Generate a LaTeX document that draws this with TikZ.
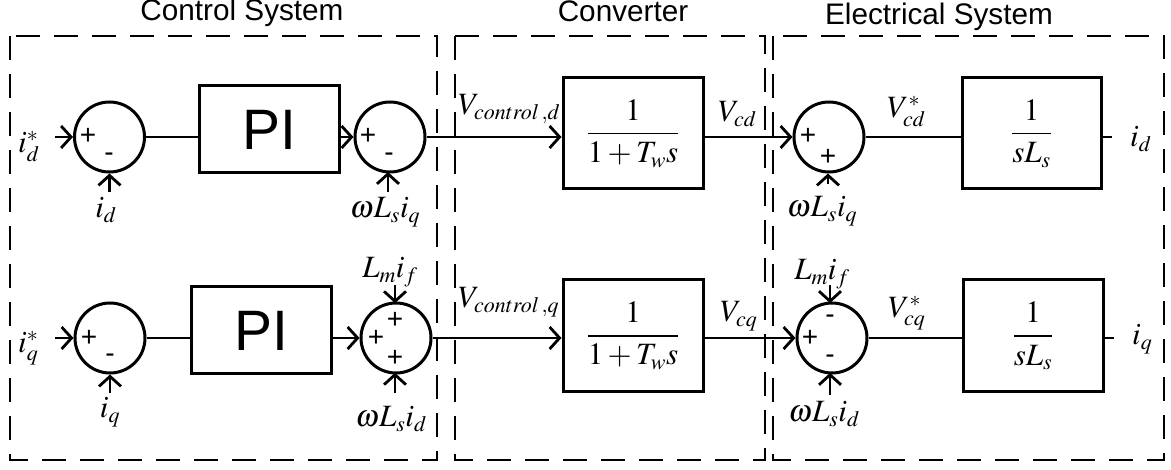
\documentclass[tikz,border=0pt]{standalone}
\usepackage{mathptmx}
\usepackage{fontspec}
\setmainfont{Liberation Serif}
\setsansfont{Liberation Sans}
\usetikzlibrary{arrows.meta}
\DeclareMathSizes{31}{31}{22}{16}
\begin{document}
\begin{tikzpicture}[x=1pt,y=-1pt,
  blk/.style={draw, line width=3pt, inner sep=0pt},
  sumnode/.style={draw, circle, line width=3pt, minimum size=70pt, inner sep=0pt},
  conn/.style={line width=2.8pt},
  arr/.style={conn, -{Straight Barb[length=10pt,width=22pt]}},
  region/.style={draw, line width=1.9pt, dash pattern=on 24pt off 14pt},
  lab/.style={font=\fontsize{31}{37}\selectfont, inner sep=0pt},
  sgn/.style={font=\sffamily\fontsize{28}{32}\selectfont, inner sep=0pt},
  ttl/.style={font=\sffamily\fontsize{29.7}{34}\selectfont, inner sep=0pt, anchor=base},
  pitext/.style={font=\sffamily\fontsize{57}{60}\selectfont}
]
\useasboundingbox (0,0) rectangle (1171,470);

% regions
\draw[region] (10,36) rectangle (437,460);
\draw[region] (455,36) rectangle (765,460);
\draw[region] (773,36) rectangle (1164,460);
\node[ttl] (t1) at (242,21) {Control System};
\node[ttl] (t2) at (623,22) {Converter};
\node[ttl] (t3) at (939,25) {Electrical System};

% summing junctions
\node[sumnode] (s1) at (109.5,137) {};
\node[sumnode] (s2) at (390,137) {};
\node[sumnode] (s3) at (829,137) {};
\node[sumnode] (s4) at (110,338) {};
\node[sumnode] (s5) at (396,338) {};
\node[sumnode] (s6) at (832,338) {};

% blocks
\node[blk, minimum width=140pt, minimum height=87pt, pitext] (pi1) at (269,129.5) {PI};
\node[blk, minimum width=140pt, minimum height=87pt, pitext] (pi2) at (261,330.5) {PI};
\node[blk, minimum width=140pt, minimum height=111pt, lab] (c1) at (633,133.5) {$\displaystyle\frac{1}{1+T_w s}$};
\node[blk, minimum width=140pt, minimum height=112pt, lab] (c2) at (633,336) {$\displaystyle\frac{1}{1+T_w s}$};
\node[blk, minimum width=139pt, minimum height=111pt, lab] (e1) at (1031.5,133.5) {$\displaystyle\frac{1}{sL_s}$};
\node[blk, minimum width=140pt, minimum height=112pt, lab] (e2) at (1033,336) {$\displaystyle\frac{1}{sL_s}$};

% signs
\node[sgn] (p1a) at (88,136) {+};
\node[sgn] (m1b) at (109,157) {-};
\node[sgn] (p2a) at (368,136) {+};
\node[sgn] (m2b) at (389,157) {-};
\node[sgn] (p3a) at (808,136) {+};
\node[sgn] (p3b) at (828,157) {+};
\node[sgn] (p4a) at (89,338) {+};
\node[sgn] (m4b) at (110,358) {-};
\node[sgn] (p5a) at (376,338) {+};
\node[sgn] (p5t) at (395,320) {+};
\node[sgn] (p5b) at (395,358) {+};
\node[sgn] (p6a) at (810,338) {+};
\node[sgn] (m6t) at (830,319) {-};
\node[sgn] (m6b) at (830,359) {-};

% labels
\node[lab, anchor=base west] (lids) at (18,153) {$i^*_d$};
\node[lab, anchor=base west] (liqs) at (18,353) {$i^*_q$};
\node[lab, anchor=base] (lid1) at (106,218) {$i_d$};
\node[lab, anchor=base] (liq1) at (110,418) {$i_q$};
\node[lab, anchor=base] (lw2) at (385,218) {$\omega L_s i_q$};
\node[lab, anchor=base] (lm5) at (390,278) {$L_m i_f$};
\node[lab, anchor=base] (lw5) at (391,427) {$\omega L_s i_d$};
\node[lab, anchor=base west] (lvcd) at (458,115) {$V_{control\mkern2mu,d}$};
\node[lab, anchor=base west] (lvcq) at (458,308) {$V_{control\mkern2mu,q}$};
\node[lab, anchor=base west] (lvd) at (718,122) {$V_{cd}$};
\node[lab, anchor=base west] (lvq) at (720,322) {$V_{cq}$};
\node[lab, anchor=base] (lw3) at (822,217) {$\omega L_s i_q$};
\node[lab, anchor=base] (lm6) at (822,280) {$L_m i_f$};
\node[lab, anchor=base] (lw6) at (824,422) {$\omega L_s i_d$};
\node[lab, anchor=base west] (lvds) at (887,118) {$V^*_{cd}$};
\node[lab, anchor=base west] (lvqs) at (888,318) {$V^*_{cq}$};
\node[lab, anchor=base west] (lidout) at (1130,147) {$i_d$};
\node[lab, anchor=base west] (liqout) at (1132,345) {$i_q$};

% free ends
\coordinate (in1) at (55,137);
\coordinate (in4) at (55,338);
\coordinate (b1) at (109.5,192);
\coordinate (b2) at (388,192);
\coordinate (b3) at (828,184);
\coordinate (b4) at (110,393);
\coordinate (b5) at (395,393);
\coordinate (t5) at (395,285);
\coordinate (b6) at (830,395);
\coordinate (t6) at (830,285);
\coordinate (o1) at (1112,137);
\coordinate (o2) at (1114,338);

% row d connectors
\draw[arr] (in1) -- (s1.west);
\draw[arr] (b1) -- (b1 |- s1.south);
\draw[conn] (s1.east) -- (s1.east -| pi1.west);
\draw[arr] (s2.west -| pi1.east) -- (s2.west);
\draw[arr] (b2) -- (388,172);
\draw[arr] (s2.east) -- (s2.east -| c1.west);
\draw[arr] (s3.west -| c1.east) -- (s3.west);
\draw[arr] (b3) -- (b3 |- s3.south);
\draw[conn] (s3.east) -- (s3.east -| e1.west);
\draw[conn] (o1 -| e1.east) -- (o1);

% row q connectors
\draw[arr] (in4) -- (s4.west);
\draw[arr] (b4) -- (b4 |- s4.south);
\draw[conn] (s4.east) -- (s4.east -| pi2.west);
\draw[arr] (s5.west -| pi2.east) -- (s5.west);
\draw[arr] (t5) -- (395,303.2);
\draw[arr] (b5) -- (395,372.8);
\draw[arr] (s5.east) -- (s5.east -| c2.west);
\draw[arr] (s6.west -| c2.east) -- (s6.west);
\draw[arr] (t6) -- (830,303.1);
\draw[arr] (b6) -- (830,372.9);
\draw[conn] (s6.east) -- (s6.east -| e2.west);
\draw[conn] (o2 -| e2.east) -- (o2);
\end{tikzpicture}
\end{document}
